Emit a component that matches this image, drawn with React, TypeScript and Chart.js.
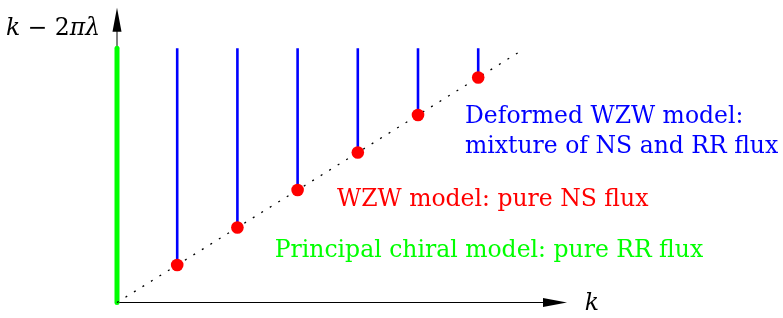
import React, { useEffect, useRef } from "react";
import { Chart, registerables } from "chart.js";
Chart.register(...registerables);

// data (k units horizontally, k - 2πλ vertically)
const kValues = [1, 2, 3, 4, 5, 6];
const wzwValues = [1, 2, 3, 4, 5, 6];
const lineTop = 6.78;
const diagonalEnd = 6.7;
const xAxisTip = 7.475;
const yAxisTip = 7.86;
const xMin = 0;
const xMax = 8;
const yMin = 0;
const yMax = 7.9;

const annotationTexts = [
  "Deformed WZW model:",
  "mixture of NS and RR flux",
  "WZW model: pure NS flux",
  "Principal chiral model: pure RR flux",
];
const annotationX = [5.78, 5.78, 3.655, 2.62];
const annotationY = [4.8, 3.98, 2.58, 1.21];
const annotationColors = ["#0000ff", "#0000ff", "#ff0000", "#00ff00"];

const SERIF = "'DejaVu Serif', 'Liberation Serif', serif";
const FONT_SIZE = 23.5;

const decorPlugin = {
  id: "decor",
  beforeDatasetsDraw(chart: any) {
    const { ctx, scales } = chart;
    const xs = scales.x, ys = scales.y;
    const ox = xs.getPixelForValue(0), oy = ys.getPixelForValue(0);
    const xt = xs.getPixelForValue(xAxisTip), yt = ys.getPixelForValue(yAxisTip);
    ctx.save();
    ctx.strokeStyle = "#000";
    ctx.fillStyle = "#000";
    ctx.lineWidth = 1;
    ctx.beginPath();
    ctx.moveTo(ox, oy);
    ctx.lineTo(xt - 20, oy);
    ctx.moveTo(ox, oy);
    ctx.lineTo(ox, yt + 20);
    ctx.stroke();
    // arrowheads
    ctx.beginPath();
    ctx.moveTo(xt, oy);
    ctx.lineTo(xt - 24, oy - 4.5);
    ctx.lineTo(xt - 24, oy + 4.5);
    ctx.closePath();
    ctx.fill();
    ctx.beginPath();
    ctx.moveTo(ox, yt);
    ctx.lineTo(ox - 4.5, yt + 24);
    ctx.lineTo(ox + 4.5, yt + 24);
    ctx.closePath();
    ctx.fill();
    ctx.restore();
  },
  afterDatasetsDraw(chart: any) {
    const { ctx, scales } = chart;
    const xs = scales.x, ys = scales.y;
    ctx.save();
    ctx.textBaseline = "alphabetic";
    ctx.textAlign = "left";
    annotationTexts.forEach((t, i) => {
      ctx.font = `${FONT_SIZE}px ${SERIF}`;
      ctx.fillStyle = annotationColors[i];
      ctx.fillText(t, xs.getPixelForValue(annotationX[i]), ys.getPixelForValue(annotationY[i]));
    });
    // axis labels
    ctx.fillStyle = "#000";
    ctx.font = `italic ${FONT_SIZE}px ${SERIF}`;
    ctx.fillText("k", xs.getPixelForValue(7.77), ys.getPixelForValue(-0.2));
    // y label: k − 2πλ, right-aligned
    const parts: [string, boolean][] = [["k", true], [" − ", false], ["2", false], ["πλ", true]];
    let total = 0;
    parts.forEach(([s, it]) => {
      ctx.font = `${it ? "italic " : ""}${FONT_SIZE}px ${SERIF}`;
      total += ctx.measureText(s).width;
    });
    let px = xs.getPixelForValue(-0.28) - total;
    const py = ys.getPixelForValue(7.14);
    parts.forEach(([s, it]) => {
      ctx.font = `${it ? "italic " : ""}${FONT_SIZE}px ${SERIF}`;
      ctx.fillText(s, px, py);
      px += ctx.measureText(s).width;
    });
    ctx.restore();
  },
};

export default function App() {
  const ref = useRef<HTMLCanvasElement>(null);
  useEffect(() => {
    if (!ref.current) return;
    const blueData: any[] = [];
    kValues.forEach((k, i) => {
      blueData.push({ x: k, y: wzwValues[i] });
      blueData.push({ x: k, y: lineTop });
      blueData.push({ x: k, y: null });
    });
    const chart = new Chart(ref.current, {
      type: "line",
      data: {
        datasets: [
          {
            label: "WZW",
            data: kValues.map((k, i) => ({ x: k, y: wzwValues[i] })),
            showLine: false,
            pointRadius: 6.3,
            pointBackgroundColor: "#ff0000",
            pointBorderColor: "#ff0000",
            pointBorderWidth: 0,
            order: 0,
          } as any,
          {
            label: "deformed",
            data: blueData,
            borderColor: "#0000ff",
            borderWidth: 2.6,
            pointRadius: 0,
            spanGaps: false,
            order: 1,
          },
          {
            label: "diagonal",
            data: [{ x: 0, y: 0 }, { x: diagonalEnd, y: diagonalEnd }],
            borderColor: "#000",
            borderWidth: 1.3,
            borderDash: [2, 8],
            pointRadius: 0,
            order: 2,
          },
          {
            label: "PCM",
            data: [{ x: 0, y: 0 }, { x: 0, y: lineTop }],
            borderColor: "#00ff00",
            borderWidth: 5,
            borderCapStyle: "round",
            pointRadius: 0,
            order: 3,
          } as any,
        ],
      },
      options: {
        animation: false,
        responsive: false,
        clip: false as any,
        layout: { padding: { left: 117, right: 783 - 117 - 8 * 60.2, top: 302.5 - 7.9 * 38, bottom: 318 - 302.5 } },
        plugins: { legend: { display: false }, tooltip: { enabled: false } },
        scales: {
          x: { type: "linear", min: xMin, max: xMax, display: false },
          y: { type: "linear", min: yMin, max: yMax, display: false },
        },
      },
      plugins: [decorPlugin],
    });
    return () => chart.destroy();
  }, []);
  return (
    <div style={{ position: "fixed", left: 0, top: 0, width: 783, height: 318, background: "#fff" }}>
      <canvas ref={ref} width={783} height={318} />
    </div>
  );
}
